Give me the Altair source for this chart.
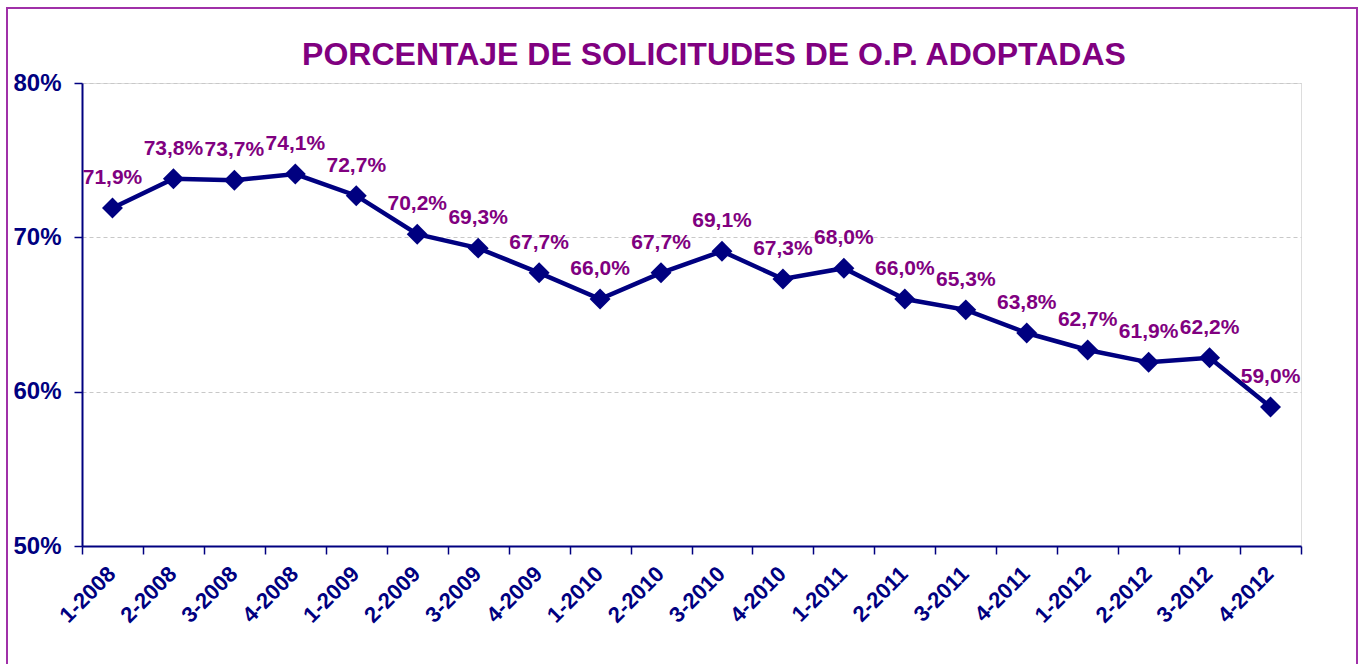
import altair as alt
import pandas as pd

periods = ["1-2008", "2-2008", "3-2008", "4-2008",
           "1-2009", "2-2009", "3-2009", "4-2009",
           "1-2010", "2-2010", "3-2010", "4-2010",
           "1-2011", "2-2011", "3-2011", "4-2011",
           "1-2012", "2-2012", "3-2012", "4-2012"]
values = [71.9, 73.8, 73.7, 74.1,
          72.7, 70.2, 69.3, 67.7,
          66.0, 67.7, 69.1, 67.3,
          68.0, 66.0, 65.3, 63.8,
          62.7, 61.9, 62.2, 59.0]
y_ticks = [0.5, 0.6, 0.7, 0.8]
title_text = ["PORCENTAJE DE SOLICITUDES DE O.P. ADOPTADAS"]

df = pd.DataFrame({
    "periodo": periods,
    "valor": [v / 100 for v in values],
    "etiqueta": [f"{v:.1f}%".replace(".", ",") for v in values],
})
df_title = pd.DataFrame({"t": title_text})

NAVY = "#000080"
PURPLE = "#800080"
FONT = "Liberation Sans"

x_enc = alt.X(
    "periodo:N",
    sort=periods,
    scale=alt.Scale(type="band", paddingInner=0, paddingOuter=0),
    bandPosition=0.5,
    axis=alt.Axis(
        title=None,
        tickBand="extent",
        labelAngle=315,
        labelAlign="right",
        labelBaseline="middle",
        labelFont=FONT,
        labelFontSize=22,
        labelFontWeight="bold",
        labelColor=NAVY,
        labelPadding=16,
        labelOffset=-1,
        tickColor=NAVY,
        tickSize=8,
        tickWidth=1.5,
        domainColor=NAVY,
        domainWidth=2,
        grid=False,
    ),
)
y_enc = alt.Y(
    "valor:Q",
    scale=alt.Scale(domain=[0.5, 0.8], nice=False),
    axis=alt.Axis(
        title=None,
        values=y_ticks,
        format=".0%",
        labelFont=FONT,
        labelFontSize=24,
        labelFontWeight="bold",
        labelColor=NAVY,
        labelPadding=13,
        tickColor=NAVY,
        tickSize=8,
        tickWidth=1.5,
        domainColor=NAVY,
        domainWidth=2,
        grid=True,
        gridColor="#c8c8c8",
        gridDash=[4, 3],
        gridWidth=1,
    ),
)

base = alt.Chart(df)

frame = base.mark_rect(fill=None, stroke="#a030a8", strokeWidth=1.5).encode(
    x=alt.value(-75), x2=alt.value(1275), y=alt.value(-75), y2=alt.value(640)
)

title = alt.Chart(df_title).mark_text(
    font=FONT, fontSize=32, fontWeight="bold", color=PURPLE,
    baseline="alphabetic", align="center",
).encode(x=alt.value(632), y=alt.value(-18), text="t:N")

line = base.mark_line(color=NAVY, strokeWidth=4.5).encode(x=x_enc, y=y_enc)
points = base.mark_point(shape="diamond", filled=True, color=NAVY, size=440, opacity=1).encode(
    x=x_enc, y=y_enc
)
labels = base.mark_text(
    font=FONT, fontSize=21, fontWeight="bold", color=PURPLE,
    baseline="alphabetic", align="center", dy=-24,
).encode(x=x_enc, y=y_enc, text="etiqueta:N")

chart = alt.layer(line, points, labels, title, frame).properties(
    width=1219,
    height=463,
    autosize=alt.AutoSizeParams(type="none"),
    padding={"left": 82, "top": 83, "right": 61, "bottom": 118},
).configure_view(stroke="#999999", strokeWidth=3).configure(background="white")

chart.save("out.html", embed_options={"renderer": "svg", "actions": False})
